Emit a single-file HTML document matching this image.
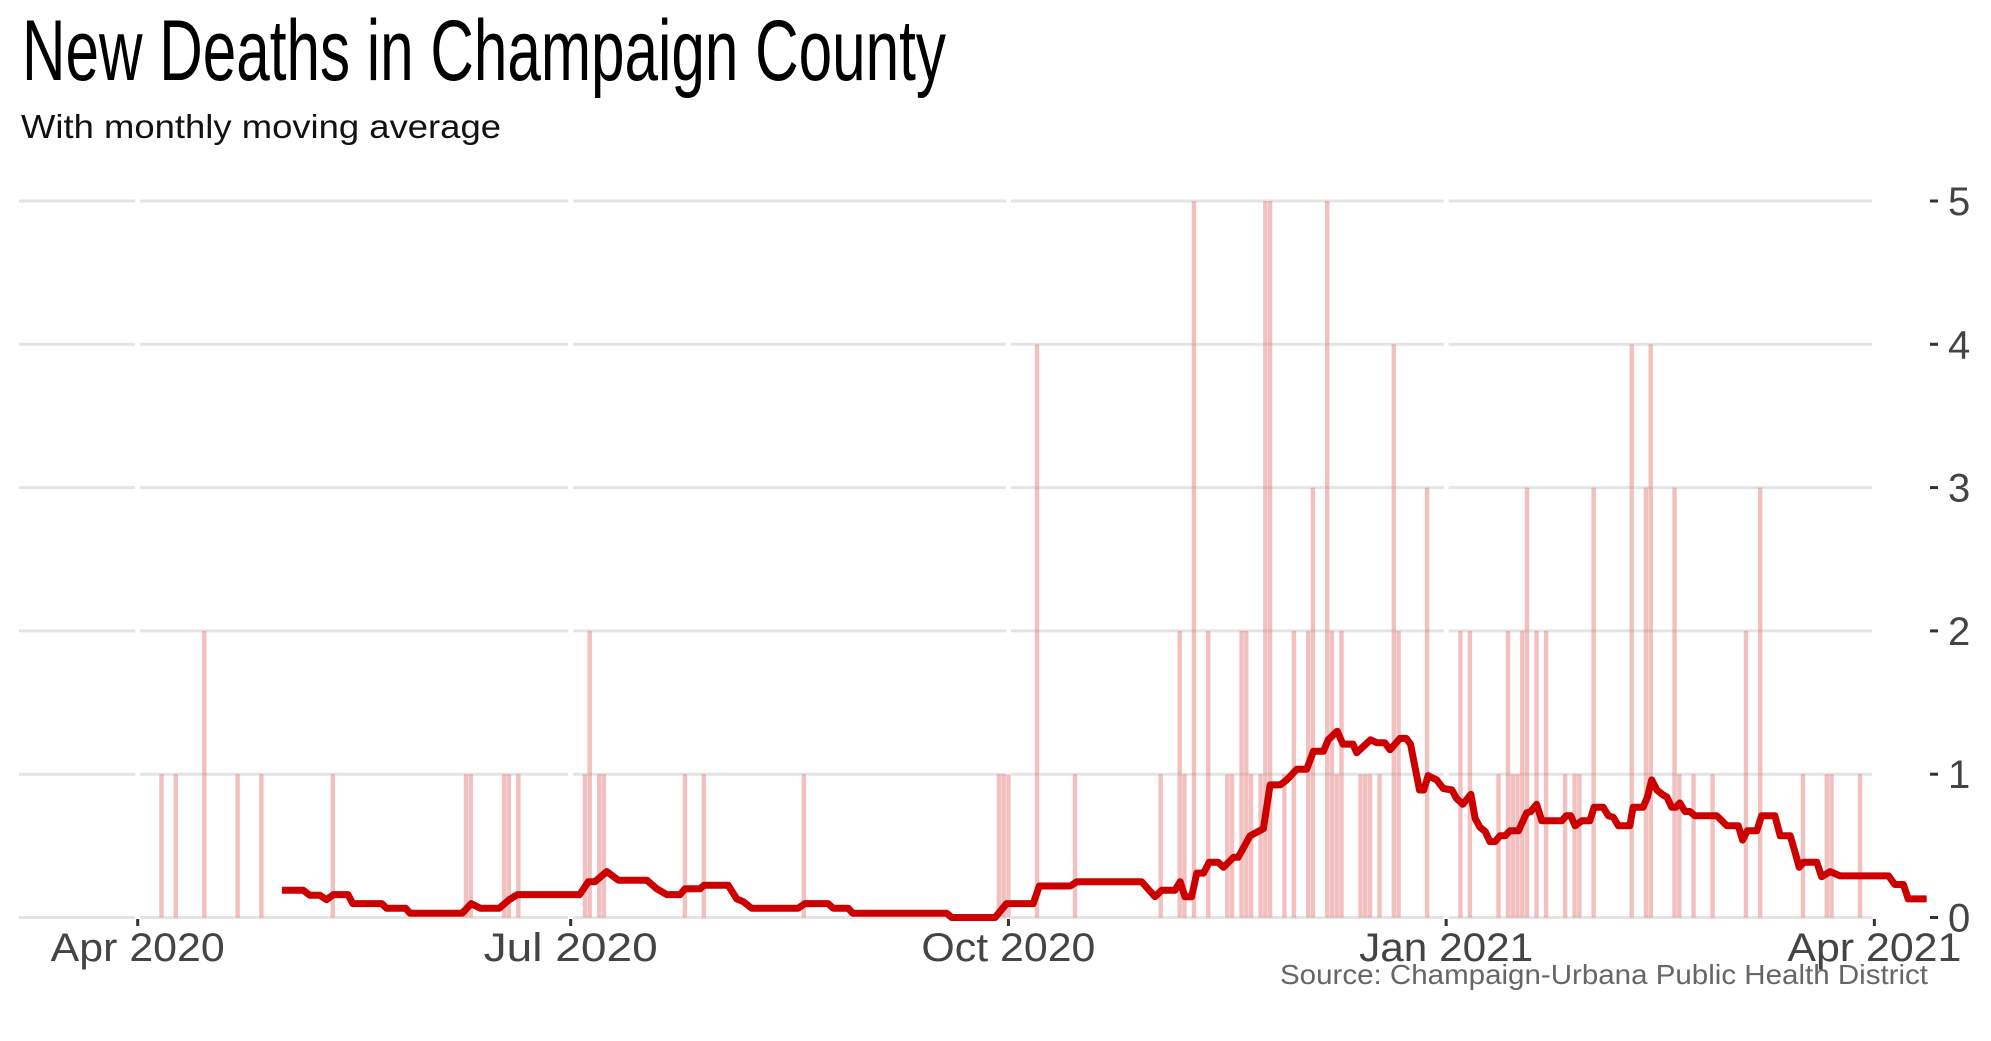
<!DOCTYPE html>
<html><head><meta charset="utf-8"><style>
html,body{margin:0;padding:0;background:#fff;}
svg{display:block;}
</style></head><body>
<svg id="chart" width="1991" height="1041" viewBox="0 0 1991 1041" xmlns="http://www.w3.org/2000/svg">
<rect x="0" y="0" width="1991" height="1041" fill="#fff"/>
<text x="22" y="80" font-family="Liberation Sans, sans-serif" font-size="86" fill="#000" textLength="924" lengthAdjust="spacingAndGlyphs">New Deaths in Champaign County</text>
<text x="21" y="138" font-family="Liberation Sans, sans-serif" font-size="33" fill="#111" textLength="480" lengthAdjust="spacingAndGlyphs">With monthly moving average</text>
<g id="grid"></g>
<g id="bars"></g>
<path id="avgline" fill="none" stroke="#cc0000" stroke-width="7" stroke-linejoin="round" stroke-linecap="butt"/>
<g id="xaxis"></g>
<g id="yaxis"></g>
<text x="1928" y="984" text-anchor="end" font-family="Liberation Sans, sans-serif" font-size="28" fill="#666" textLength="648" lengthAdjust="spacingAndGlyphs">Source: Champaign-Urbana Public Health District</text>
</svg>
<script>
// Days since 2020-04-01
const barDays = [5,8,14,21,26,41,69,70,77,78,80,94,95,97,98,115,119,140,181,182,183,189,197,215,219,220,222,225,229,230,232,233,234,236,237,238,241,243,246,247,250,251,252,253,257,258,259,261,264,265,271,278,280,286,288,289,290,291,292,294,296,300,302,303,306,314,317,318,323,324,327,331,338,341,350,355,356,362];
const barValues = [1,1,2,1,1,1,1,1,1,1,1,1,2,1,1,1,1,1,1,1,1,4,1,1,2,1,5,2,1,1,2,2,1,1,5,5,1,2,2,3,5,2,1,2,1,1,1,1,4,2,3,2,2,1,2,1,1,2,3,2,2,1,1,1,3,4,3,4,3,1,1,1,2,3,1,1,1,1];
const lineDays = [30.3,34.8,36.2,38.3,39.7,41.1,44.2,45.2,51.3,52.3,56.3,57.2,68.2,70.1,72,76,78.1,79.8,92.9,94.7,96.1,98.6,101,107,109.1,111.2,114,115,118.2,119,124.1,125.9,127.3,129,138.8,140.2,145.1,146.2,149.3,150.3,170,171.1,180.2,182.6,188.2,189.5,196,197.4,211,213.8,215.2,218,219.1,220.1,221.5,222.6,224,225.2,227.1,228.2,230.3,231.3,233.8,235.5,236.6,238,240.1,241.5,243.6,245.7,247.1,249.2,250.2,252.1,253.3,255.4,256.2,259.1,260.4,262.1,263.2,265.3,266.6,267.5,269.4,270.3,271.2,273,274.4,276.2,277.2,278.5,280.2,281.1,282.1,283.2,284.2,285.3,286.3,287.4,288.4,290.2,291.9,292.8,294,295.1,299.3,300.2,301.2,302.1,303.5,305.2,306.1,308,309.1,310.1,311.2,313.6,314.3,316.4,317.3,318.2,319.3,320.6,321.4,322.4,323.3,324.1,325.2,326.2,327.3,331.9,334,336.4,337.3,338.3,340.3,341.3,344.1,345.2,347.3,348.3,349.2,350.1,352.9,353.9,355.7,357.8,368,369.3,371.1,372.1,376];
const lineValues = [0.19,0.19,0.155,0.155,0.124,0.16,0.16,0.097,0.097,0.065,0.065,0.03,0.03,0.097,0.065,0.065,0.125,0.16,0.16,0.25,0.25,0.32,0.26,0.26,0.2,0.16,0.16,0.2,0.2,0.225,0.225,0.13,0.11,0.065,0.065,0.097,0.097,0.065,0.065,0.03,0.03,0,0,0.097,0.097,0.22,0.22,0.25,0.25,0.145,0.19,0.19,0.25,0.145,0.145,0.31,0.31,0.385,0.385,0.35,0.42,0.42,0.57,0.6,0.62,0.925,0.925,0.96,1.035,1.035,1.16,1.16,1.24,1.3,1.21,1.21,1.15,1.24,1.22,1.22,1.17,1.25,1.25,1.21,0.89,0.89,0.99,0.96,0.9,0.89,0.83,0.79,0.86,0.69,0.63,0.6,0.53,0.53,0.57,0.57,0.605,0.605,0.73,0.74,0.79,0.675,0.675,0.71,0.71,0.64,0.675,0.675,0.77,0.77,0.71,0.7,0.64,0.64,0.77,0.77,0.84,0.96,0.89,0.855,0.84,0.77,0.77,0.8,0.74,0.74,0.71,0.71,0.64,0.64,0.54,0.605,0.605,0.71,0.71,0.57,0.57,0.46,0.35,0.385,0.385,0.285,0.32,0.29,0.29,0.23,0.23,0.13,0.13];
const yTicks = [0,1,2,3,4,5];
const xTickDays = [0,91,183,275,365];
const xTickLabels = ["Apr 2020","Jul 2020","Oct 2020","Jan 2021","Apr 2021"];

const NS = "http://www.w3.org/2000/svg";
const X0 = 137.7, PXD = 4.758, Y0 = 917.5, PXU = 143.3;
function xs(d){ return X0 + d*PXD; }
function ys(v){ return Y0 - v*PXU; }
function mk(tag, attrs, parent){ const e=document.createElementNS(NS,tag); for(const k in attrs) e.setAttribute(k,attrs[k]); parent.appendChild(e); return e; }

const grid = document.getElementById('grid');
yTicks.forEach(function(t){
  const l = mk('line',{x1:19,x2:1877,y1:ys(t),y2:ys(t),stroke:'#e4e4e4','stroke-width':3},grid);
  
  
});
xTickDays.forEach(function(d){
  const g = mk('rect',{x:xs(d)-2.5,y:ys(5)-3,width:5,height:ys(0)-ys(5)+6,fill:'#fff'},grid);
  
  
});

const bars = document.getElementById('bars');
barDays.forEach(function(d,i){
  const v = barValues[i];
  const r = mk('rect',{x:xs(d)-2.2,y:ys(v),width:4.4,height:ys(0)-ys(v),fill:'#e57373','fill-opacity':0.45},bars);
  
  
});

let dstr = '';
lineDays.forEach(function(d,i){ dstr += (i?'L':'M') + xs(d).toFixed(1) + ' ' + ys(lineValues[i]).toFixed(1); });
document.getElementById('avgline').setAttribute('d', dstr);

const xa = document.getElementById('xaxis');
xTickDays.forEach(function(d,i){
  const tk = mk('rect',{x:xs(d)-1.5,y:919,width:3,height:7,fill:'#333'},xa);
  
  
  const t = mk('text',{x:xs(d),y:961,'text-anchor':'middle','font-family':'Liberation Sans, sans-serif','font-size':40,fill:'#444',textLength:174,lengthAdjust:'spacingAndGlyphs'},xa);
  t.textContent = xTickLabels[i];
  
  
});

const ya = document.getElementById('yaxis');
yTicks.forEach(function(t){
  const tk = mk('rect',{x:1930,y:ys(t)-1.5,width:8,height:3,fill:'#333'},ya);
  
  
  const tx = mk('text',{x:1948,y:ys(t)+14,'font-family':'Liberation Sans, sans-serif','font-size':40,fill:'#444'},ya);
  tx.textContent = String(t);
  
  
});
</script>
</body></html>
